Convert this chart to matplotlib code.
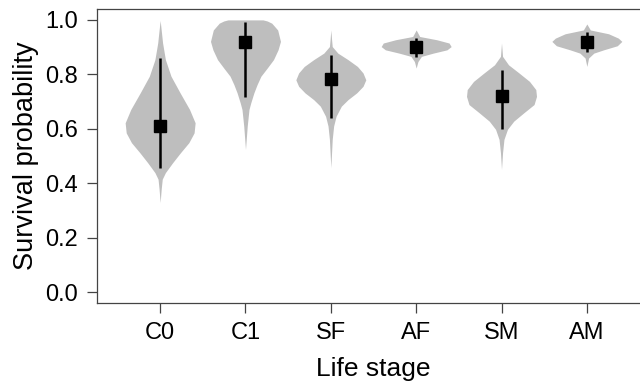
import matplotlib
matplotlib.use('Agg')
import matplotlib.pyplot as plt
import numpy as np

plt.rcParams['font.family'] = ['Liberation Sans', 'DejaVu Sans']

# Life stages and posterior summaries
stages = ["C0", "C1", "SF", "AF", "SM", "AM"]
medians = [0.612, 0.917, 0.784, 0.902, 0.719, 0.917]
lower = [0.457, 0.717, 0.640, 0.863, 0.600, 0.882]
upper = [0.860, 0.994, 0.872, 0.935, 0.815, 0.957]

# Violin profiles: probability levels and relative half-widths
C0_v = [0.329, 0.378, 0.415, 0.439, 0.476, 0.512, 0.549, 0.585, 0.622, 0.671, 0.732, 0.793, 0.854, 0.915, 0.963, 0.998]
C0_w = [0.0, 0.03, 0.06, 0.15, 0.36, 0.58, 0.82, 0.97, 1.0, 0.84, 0.57, 0.31, 0.15, 0.07, 0.03, 0.0]
C1_v = [0.524, 0.610, 0.671, 0.695, 0.732, 0.762, 0.793, 0.823, 0.854, 0.890, 0.921, 0.963, 0.988, 0.996, 1.0]
C1_w = [0.0, 0.05, 0.10, 0.15, 0.24, 0.33, 0.44, 0.62, 0.80, 0.93, 1.0, 0.92, 0.75, 0.62, 0.50]
SF_v = [0.457, 0.561, 0.610, 0.646, 0.683, 0.707, 0.732, 0.756, 0.780, 0.805, 0.829, 0.854, 0.878, 0.902, 0.930, 0.963]
SF_w = [0.0, 0.04, 0.08, 0.15, 0.30, 0.49, 0.74, 0.92, 1.0, 0.92, 0.76, 0.49, 0.20, 0.04, 0.02, 0.0]
AF_v = [0.823, 0.847, 0.866, 0.878, 0.890, 0.902, 0.915, 0.927, 0.939, 0.963]
AF_w = [0.0, 0.05, 0.15, 0.49, 0.88, 1.0, 0.94, 0.59, 0.10, 0.0]
SM_v = [0.451, 0.512, 0.561, 0.598, 0.628, 0.659, 0.689, 0.719, 0.744, 0.774, 0.805, 0.835, 0.866, 0.915]
SM_w = [0.0, 0.03, 0.07, 0.17, 0.35, 0.64, 0.93, 1.0, 0.98, 0.80, 0.50, 0.20, 0.03, 0.0]
AM_v = [0.829, 0.860, 0.878, 0.890, 0.905, 0.921, 0.933, 0.949, 0.963, 0.985]
AM_w = [0.0, 0.05, 0.20, 0.48, 0.87, 1.0, 0.90, 0.62, 0.10, 0.0]

profiles = [(C0_v, C0_w), (C1_v, C1_w), (SF_v, SF_w), (AF_v, AF_w), (SM_v, SM_w), (AM_v, AM_w)]

yticks = [0.0, 0.2, 0.4, 0.6, 0.8, 1.0]

fig = plt.figure(figsize=(6.4, 3.85), dpi=100)
ax = fig.add_axes([97 / 640, 82 / 385, 553 / 640, 294 / 385])

positions = np.arange(1, len(stages) + 1)
half = 0.41
for x, (v, w) in zip(positions, profiles):
    v = np.asarray(v)
    w = np.asarray(w) * half
    ax.fill_betweenx(v, x - w, x + w, color='#BEBEBE', lw=0, zorder=1)

ax.vlines(positions, lower, upper, color='black', lw=1.8, zorder=2)
ax.plot(positions, medians, 's', color='black', ms=8.3, zorder=3)

ax.set_xlim(0.26, 6.74)
ax.set_ylim(-0.04, 1.04)
ax.set_xticks(positions)
ax.set_xticklabels(stages)
ax.set_yticks(yticks)
ax.set_yticklabels([f"{t:.1f}" for t in yticks])

for s in ax.spines.values():
    s.set_color('#444444')
    s.set_linewidth(0.9)
ax.tick_params(direction='out', length=7, width=0.9, color='#444444',
               labelsize=17, pad=7)

ax.set_ylabel('Survival probability', fontsize=19.5, labelpad=4)
ax.set_xlabel('Life stage', fontsize=19, labelpad=9)

fig.savefig('out.png', dpi=100)
